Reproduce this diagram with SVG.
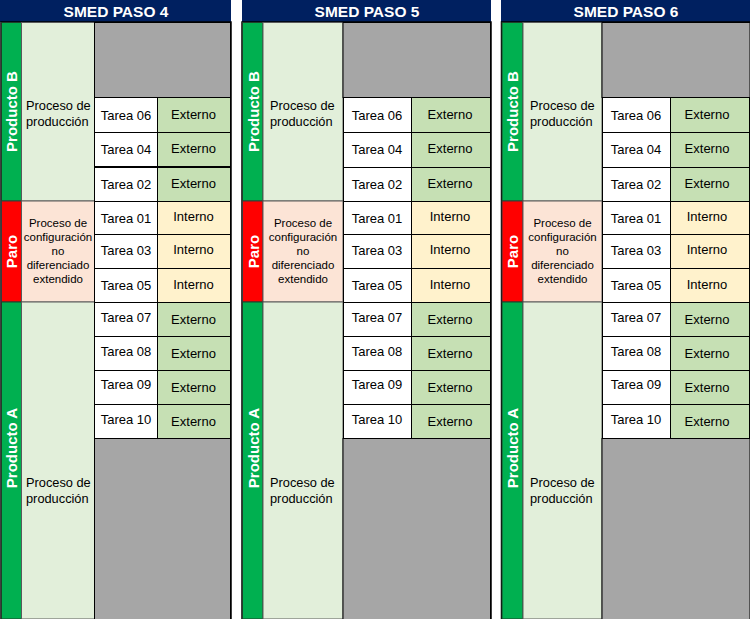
<svg xmlns="http://www.w3.org/2000/svg" width="750" height="619" viewBox="0 0 750 619">
<style>
.bg{fill:#ffffff}
.hdr{fill:#002060}
.htxt{font-family:"Liberation Sans",Arial,sans-serif;font-weight:bold;font-size:15.5px;fill:#ffffff;text-anchor:middle}
.grn{fill:#00B050;stroke:#1f3f2a;stroke-width:1}
.red{fill:#FF0000;stroke:#3a3a3a;stroke-width:1}
.lg{fill:#E2EFDA;stroke:#5a5a5a;stroke-width:1}
.pe{fill:#FCE4D6;stroke:#5a5a5a;stroke-width:1}
.gry{fill:#A6A6A6;stroke:#000;stroke-width:1}
.wc{fill:#ffffff;stroke:#000;stroke-width:1}
.ec{fill:#C6E0B4;stroke:#000;stroke-width:1}
.ic{fill:#FFF2CC;stroke:#000;stroke-width:1}
.vt{font-family:"Liberation Sans",Arial,sans-serif;font-weight:bold;font-size:15px;fill:#ffffff;text-anchor:middle}
.t{font-family:"Liberation Sans",Arial,sans-serif;font-size:13px;fill:#000;text-anchor:middle}
.pl{font-family:"Liberation Sans",Arial,sans-serif;font-size:12.8px;fill:#000}
.ps{font-family:"Liberation Sans",Arial,sans-serif;font-size:11.5px;fill:#000;text-anchor:middle}
</style>
<rect class="bg" x="0" y="0" width="750" height="619"/>

<!-- PANEL 1 -->
<g id="panel4">
  <g id="p4-header"><rect class="hdr" x="0" y="0" width="231" height="22"/><text class="htxt" x="116" y="17">SMED PASO 4</text></g>
  <rect x="1" y="22" width="230" height="597" fill="none" stroke="#000" stroke-width="1.5"/>
  <g id="p4-prodB">
    <rect class="grn" x="1.5" y="22.5" width="20" height="178.5"/>
    <text class="vt" transform="translate(11.5,111.5) rotate(-90)" dy="5.5">Producto B</text>
    <rect class="lg" x="21.5" y="22.5" width="73" height="178.5"/>
    <text class="pl" x="26" y="110">Proceso de</text><text class="pl" x="26" y="126">producción</text>
  </g>
  <g id="p4-paro">
    <rect class="red" x="1.5" y="201" width="20" height="101"/>
    <text class="vt" transform="translate(11.5,251.5) rotate(-90)" dy="5.5">Paro</text>
    <rect class="pe" x="21.5" y="201" width="73" height="101"/>
    <text class="ps" x="58" y="227">Proceso de</text><text class="ps" x="58" y="241">configuración</text><text class="ps" x="58" y="255">no</text><text class="ps" x="58" y="269">diferenciado</text><text class="ps" x="58" y="283">extendido</text>
  </g>
  <g id="p4-prodA">
    <rect class="grn" x="1.5" y="302" width="20" height="317"/>
    <text class="vt" transform="translate(11.5,448) rotate(-90)" dy="5.5">Producto A</text>
    <rect class="lg" x="21.5" y="302" width="73" height="317"/>
    <text class="pl" x="26" y="487">Proceso de</text><text class="pl" x="26" y="503">producción</text>
  </g>
  <rect class="gry" x="94.5" y="22.5" width="136" height="75"/>
  <rect class="gry" x="94.5" y="438.5" width="136" height="181"/>
  <g id="p4-t06"><rect class="wc" x="94.5" y="97.5" width="63" height="35"/><rect class="ec" x="157.5" y="97.5" width="73" height="35"/><text class="t" x="126" y="120">Tarea 06</text><text class="t" x="193.5" y="119">Externo</text></g>
  <g id="p4-t04"><rect class="wc" x="94.5" y="132.5" width="63" height="35"/><rect class="ec" x="157.5" y="132.5" width="73" height="35"/><text class="t" x="126" y="154">Tarea 04</text><text class="t" x="193.5" y="153">Externo</text></g>
  <line x1="94" y1="167" x2="231" y2="167" stroke="#000" stroke-width="2"/>
  <g id="p4-t02"><rect class="wc" x="94.5" y="167.5" width="63" height="34"/><rect class="ec" x="157.5" y="167.5" width="73" height="34"/><text class="t" x="126" y="189">Tarea 02</text><text class="t" x="193.5" y="188">Externo</text></g>
  <g id="p4-t01"><rect class="wc" x="94.5" y="201.5" width="63" height="33"/><rect class="ic" x="157.5" y="201.5" width="73" height="33"/><text class="t" x="126" y="223">Tarea 01</text><text class="t" x="193.5" y="221">Interno</text></g>
  <g id="p4-t03"><rect class="wc" x="94.5" y="234.5" width="63" height="34"/><rect class="ic" x="157.5" y="234.5" width="73" height="34"/><text class="t" x="126" y="255">Tarea 03</text><text class="t" x="193.5" y="254">Interno</text></g>
  <g id="p4-t05"><rect class="wc" x="94.5" y="268.5" width="63" height="34"/><rect class="ic" x="157.5" y="268.5" width="73" height="34"/><text class="t" x="126" y="290">Tarea 05</text><text class="t" x="193.5" y="289">Interno</text></g>
  <g id="p4-t07"><rect class="wc" x="94.5" y="302.5" width="63" height="34"/><rect class="ec" x="157.5" y="302.5" width="73" height="34"/><text class="t" x="126" y="322">Tarea 07</text><text class="t" x="193.5" y="324">Externo</text></g>
  <g id="p4-t08"><rect class="wc" x="94.5" y="336.5" width="63" height="34"/><rect class="ec" x="157.5" y="336.5" width="73" height="34"/><text class="t" x="126" y="356">Tarea 08</text><text class="t" x="193.5" y="358">Externo</text></g>
  <g id="p4-t09"><rect class="wc" x="94.5" y="370.5" width="63" height="34"/><rect class="ec" x="157.5" y="370.5" width="73" height="34"/><text class="t" x="126" y="389">Tarea 09</text><text class="t" x="193.5" y="392">Externo</text></g>
  <g id="p4-t10"><rect class="wc" x="94.5" y="404.5" width="63" height="34"/><rect class="ec" x="157.5" y="404.5" width="73" height="34"/><text class="t" x="126" y="424">Tarea 10</text><text class="t" x="193.5" y="426">Externo</text></g>
</g>

<!-- PANEL 2 -->
<g id="panel5">
  <g id="p5-header"><rect class="hdr" x="242" y="0" width="249" height="22"/><text class="htxt" x="367" y="17">SMED PASO 5</text></g>
  <rect x="242" y="22" width="249" height="597" fill="none" stroke="#000" stroke-width="1.5"/>
  <g id="p5-prodB">
    <rect class="grn" x="242.5" y="22.5" width="20.5" height="178.5"/>
    <text class="vt" transform="translate(253,111.5) rotate(-90)" dy="5.5">Producto B</text>
    <rect class="lg" x="263" y="22.5" width="80" height="178.5"/>
    <text class="pl" x="270" y="110">Proceso de</text><text class="pl" x="270" y="126">producción</text>
  </g>
  <g id="p5-paro">
    <rect class="red" x="242.5" y="201" width="20.5" height="101"/>
    <text class="vt" transform="translate(253,251.5) rotate(-90)" dy="5.5">Paro</text>
    <rect class="pe" x="263" y="201" width="80" height="101"/>
    <text class="ps" x="303" y="227">Proceso de</text><text class="ps" x="303" y="241">configuración</text><text class="ps" x="303" y="255">no</text><text class="ps" x="303" y="269">diferenciado</text><text class="ps" x="303" y="283">extendido</text>
  </g>
  <g id="p5-prodA">
    <rect class="grn" x="242.5" y="302" width="20.5" height="317"/>
    <text class="vt" transform="translate(253,448) rotate(-90)" dy="5.5">Producto A</text>
    <rect class="lg" x="263" y="302" width="80" height="317"/>
    <text class="pl" x="270" y="487">Proceso de</text><text class="pl" x="270" y="503">producción</text>
  </g>
  <rect class="gry" x="343" y="22.5" width="147.5" height="75"/>
  <rect class="gry" x="343" y="438.5" width="147.5" height="181"/>
  <g id="p5-t06"><rect class="wc" x="343.5" y="97.5" width="68" height="35"/><rect class="ec" x="411.5" y="97.5" width="79" height="35"/><text class="t" x="377" y="120">Tarea 06</text><text class="t" x="450" y="119">Externo</text></g>
  <g id="p5-t04"><rect class="wc" x="343.5" y="132.5" width="68" height="35"/><rect class="ec" x="411.5" y="132.5" width="79" height="35"/><text class="t" x="377" y="154">Tarea 04</text><text class="t" x="450" y="153">Externo</text></g>
  <g id="p5-t02"><rect class="wc" x="343.5" y="167.5" width="68" height="34"/><rect class="ec" x="411.5" y="167.5" width="79" height="34"/><text class="t" x="377" y="189">Tarea 02</text><text class="t" x="450" y="188">Externo</text></g>
  <g id="p5-t01"><rect class="wc" x="343.5" y="201.5" width="68" height="33"/><rect class="ic" x="411.5" y="201.5" width="79" height="33"/><text class="t" x="377" y="223">Tarea 01</text><text class="t" x="450" y="221">Interno</text></g>
  <g id="p5-t03"><rect class="wc" x="343.5" y="234.5" width="68" height="34"/><rect class="ic" x="411.5" y="234.5" width="79" height="34"/><text class="t" x="377" y="255">Tarea 03</text><text class="t" x="450" y="254">Interno</text></g>
  <g id="p5-t05"><rect class="wc" x="343.5" y="268.5" width="68" height="34"/><rect class="ic" x="411.5" y="268.5" width="79" height="34"/><text class="t" x="377" y="290">Tarea 05</text><text class="t" x="450" y="289">Interno</text></g>
  <g id="p5-t07"><rect class="wc" x="343.5" y="302.5" width="68" height="34"/><rect class="ec" x="411.5" y="302.5" width="79" height="34"/><text class="t" x="377" y="322">Tarea 07</text><text class="t" x="450" y="324">Externo</text></g>
  <g id="p5-t08"><rect class="wc" x="343.5" y="336.5" width="68" height="34"/><rect class="ec" x="411.5" y="336.5" width="79" height="34"/><text class="t" x="377" y="356">Tarea 08</text><text class="t" x="450" y="358">Externo</text></g>
  <g id="p5-t09"><rect class="wc" x="343.5" y="370.5" width="68" height="34"/><rect class="ec" x="411.5" y="370.5" width="79" height="34"/><text class="t" x="377" y="389">Tarea 09</text><text class="t" x="450" y="392">Externo</text></g>
  <g id="p5-t10"><rect class="wc" x="343.5" y="404.5" width="68" height="34"/><rect class="ec" x="411.5" y="404.5" width="79" height="34"/><text class="t" x="377" y="424">Tarea 10</text><text class="t" x="450" y="426">Externo</text></g>
</g>

<!-- PANEL 3 -->
<g id="panel6">
  <g id="p6-header"><rect class="hdr" x="501" y="0" width="249" height="22"/><text class="htxt" x="626" y="17">SMED PASO 6</text></g>
  <rect x="501.5" y="22" width="249" height="597" fill="none" stroke="#000" stroke-width="1.5"/>
  <g id="p6-prodB">
    <rect class="grn" x="502" y="22.5" width="21" height="178.5"/>
    <text class="vt" transform="translate(512.5,111.5) rotate(-90)" dy="5.5">Producto B</text>
    <rect class="lg" x="523" y="22.5" width="79" height="178.5"/>
    <text class="pl" x="530" y="110">Proceso de</text><text class="pl" x="530" y="126">producción</text>
  </g>
  <g id="p6-paro">
    <rect class="red" x="502" y="201" width="21" height="101"/>
    <text class="vt" transform="translate(512.5,251.5) rotate(-90)" dy="5.5">Paro</text>
    <rect class="pe" x="523" y="201" width="79" height="101"/>
    <text class="ps" x="562.5" y="227">Proceso de</text><text class="ps" x="562.5" y="241">configuración</text><text class="ps" x="562.5" y="255">no</text><text class="ps" x="562.5" y="269">diferenciado</text><text class="ps" x="562.5" y="283">extendido</text>
  </g>
  <g id="p6-prodA">
    <rect class="grn" x="502" y="302" width="21" height="317"/>
    <text class="vt" transform="translate(512.5,448) rotate(-90)" dy="5.5">Producto A</text>
    <rect class="lg" x="523" y="302" width="79" height="317"/>
    <text class="pl" x="530" y="487">Proceso de</text><text class="pl" x="530" y="503">producción</text>
  </g>
  <rect class="gry" x="602" y="22.5" width="148" height="75"/>
  <rect class="gry" x="602" y="438.5" width="148" height="181"/>
  <g id="p6-t06"><rect class="wc" x="602.5" y="97.5" width="68" height="35"/><rect class="ec" x="670.5" y="97.5" width="79" height="35"/><text class="t" x="636" y="120">Tarea 06</text><text class="t" x="707" y="119">Externo</text></g>
  <g id="p6-t04"><rect class="wc" x="602.5" y="132.5" width="68" height="35"/><rect class="ec" x="670.5" y="132.5" width="79" height="35"/><text class="t" x="636" y="154">Tarea 04</text><text class="t" x="707" y="153">Externo</text></g>
  <g id="p6-t02"><rect class="wc" x="602.5" y="167.5" width="68" height="34"/><rect class="ec" x="670.5" y="167.5" width="79" height="34"/><text class="t" x="636" y="189">Tarea 02</text><text class="t" x="707" y="188">Externo</text></g>
  <g id="p6-t01"><rect class="wc" x="602.5" y="201.5" width="68" height="33"/><rect class="ic" x="670.5" y="201.5" width="79" height="33"/><text class="t" x="636" y="223">Tarea 01</text><text class="t" x="707" y="221">Interno</text></g>
  <g id="p6-t03"><rect class="wc" x="602.5" y="234.5" width="68" height="34"/><rect class="ic" x="670.5" y="234.5" width="79" height="34"/><text class="t" x="636" y="255">Tarea 03</text><text class="t" x="707" y="254">Interno</text></g>
  <g id="p6-t05"><rect class="wc" x="602.5" y="268.5" width="68" height="34"/><rect class="ic" x="670.5" y="268.5" width="79" height="34"/><text class="t" x="636" y="290">Tarea 05</text><text class="t" x="707" y="289">Interno</text></g>
  <g id="p6-t07"><rect class="wc" x="602.5" y="302.5" width="68" height="34"/><rect class="ec" x="670.5" y="302.5" width="79" height="34"/><text class="t" x="636" y="322">Tarea 07</text><text class="t" x="707" y="324">Externo</text></g>
  <g id="p6-t08"><rect class="wc" x="602.5" y="336.5" width="68" height="34"/><rect class="ec" x="670.5" y="336.5" width="79" height="34"/><text class="t" x="636" y="356">Tarea 08</text><text class="t" x="707" y="358">Externo</text></g>
  <g id="p6-t09"><rect class="wc" x="602.5" y="370.5" width="68" height="34"/><rect class="ec" x="670.5" y="370.5" width="79" height="34"/><text class="t" x="636" y="389">Tarea 09</text><text class="t" x="707" y="392">Externo</text></g>
  <g id="p6-t10"><rect class="wc" x="602.5" y="404.5" width="68" height="34"/><rect class="ec" x="670.5" y="404.5" width="79" height="34"/><text class="t" x="636" y="424">Tarea 10</text><text class="t" x="707" y="426">Externo</text></g>
</g>
</svg>
